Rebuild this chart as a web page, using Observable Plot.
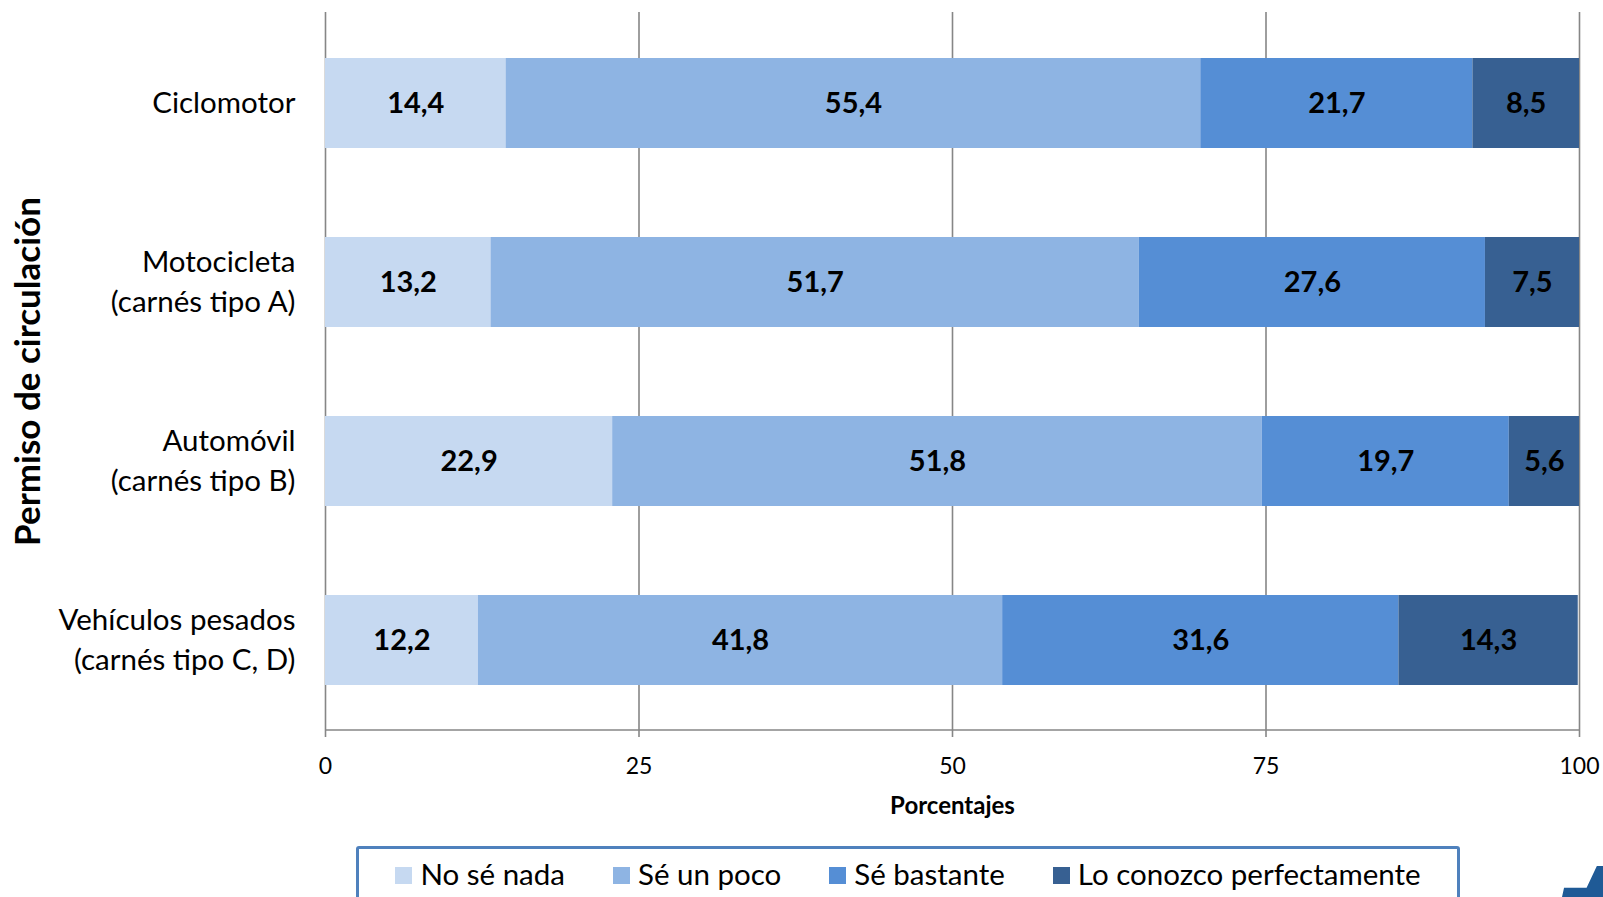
<!DOCTYPE html>
<html><head><meta charset="utf-8">
<script src="https://cdn.jsdelivr.net/npm/d3@7"></script>
<script src="https://cdn.jsdelivr.net/npm/@observablehq/plot@0.6"></script>
<style>
html,body{margin:0;padding:0;background:#fff;width:1603px;height:897px;overflow:hidden;font-family:Lato,"Noto Sans",sans-serif;}
#chart{position:absolute;left:0;top:0;}
#legend{position:absolute;left:356px;top:846px;width:1104px;height:80px;border:3px solid #4f81bd;border-radius:3px;box-sizing:border-box;display:flex;justify-content:center;gap:48px;padding-top:7px;font-size:29.5px;color:#000;}
#legend .item{display:flex;align-items:flex-start;}
#legend .sw{width:17px;height:17px;margin-right:8px;margin-top:11px;}
#logo{position:absolute;left:1562px;top:866px;width:41px;height:31px;background:#1f5a96;clip-path:polygon(0 100%,5% 70%,60% 70%,85% 0,100% 0,100% 100%);}
</style></head>
<body>
<div id="chart"></div>
<div id="legend"></div>
<div id="logo"></div>
<script>
const categories = ["Ciclomotor", "Motocicleta\n(carnés tipo A)", "Automóvil\n(carnés tipo B)", "Vehículos pesados\n(carnés tipo C, D)"];
const levels = ["No sé nada", "Sé un poco", "Sé bastante", "Lo conozco perfectamente"];
const noSeNada = [14.4, 13.2, 22.9, 12.2];
const seUnPoco = [55.4, 51.7, 51.8, 41.8];
const seBastante = [21.7, 27.6, 19.7, 31.6];
const loConozco = [8.5, 7.5, 5.6, 14.3];
const colors = ["#c6d9f1", "#8eb4e3", "#558ed5", "#376092"];
const xTicks = [0, 25, 50, 75, 100];
const yTitle = "Permiso de circulación";
const xTitle = "Porcentajes";

const series = [noSeNada, seUnPoco, seBastante, loConozco];
const data = [];
categories.forEach((c, i) => levels.forEach((l, j) => data.push({cat: c, level: l, value: series[j][i]})));

const fmt = v => v.toFixed(1).replace(".", ",");
const font = "Lato, 'Noto Sans', sans-serif";

const bottomLine = (index, scales, values, dims) => {
  const y = dims.height - dims.marginBottom;
  const l = document.createElementNS("http://www.w3.org/2000/svg", "line");
  l.setAttribute("x1", scales.x(0)); l.setAttribute("x2", scales.x(100));
  l.setAttribute("y1", y); l.setAttribute("y2", y);
  l.setAttribute("stroke", "#868686"); l.setAttribute("stroke-width", 1.6);
  return l;
};

const chart = Plot.plot({
  width: 1603, height: 840,
  marginLeft: 325, marginRight: 24, marginTop: 12, marginBottom: 110,
  style: {fontFamily: font, background: "#fff", color: "#000", overflow: "visible"},
  x: {domain: [0, 100]},
  y: {domain: categories, paddingInner: 0.5, paddingOuter: 0.25, align: 0.5},
  color: {domain: levels, range: colors},
  marks: [
    Plot.ruleX(xTicks, {stroke: "#868686", strokeWidth: 1.6}),
    bottomLine,
    Plot.barX(data, Plot.stackX({x: "value", y: "cat", fill: "level", order: levels, inset: 0})),
    Plot.text(data, Plot.stackX({x: "value", y: "cat", z: "level", order: levels, text: d => fmt(d.value), fontSize: 29, fontWeight: "bold", fill: "#000"})),
    Plot.axisX({ticks: xTicks, tickSize: 7, tickPadding: 20, fontSize: 23, stroke: "#868686", strokeWidth: 1.6, label: null}),
    Plot.axisY({tickSize: 0, tickPadding: 30, fontSize: 29.5, lineHeight: 1.36, dy: -3, label: null}),
    Plot.text([xTitle], {frameAnchor: "bottom", dy: 83, fontSize: 24, fontWeight: "bold"}),
    Plot.text([yTitle], {frameAnchor: "left", textAnchor: "middle", rotate: -90, dx: -297, fontSize: 35, fontWeight: "bold"})
  ]
});
document.getElementById("chart").appendChild(chart);

const lg = document.getElementById("legend");
levels.forEach((l, i) => {
  const it = document.createElement("div"); it.className = "item";
  const sw = document.createElement("div"); sw.className = "sw"; sw.style.background = colors[i];
  const t = document.createElement("span"); t.textContent = l;
  it.appendChild(sw); it.appendChild(t); lg.appendChild(it);
});
</script>
</body></html>
